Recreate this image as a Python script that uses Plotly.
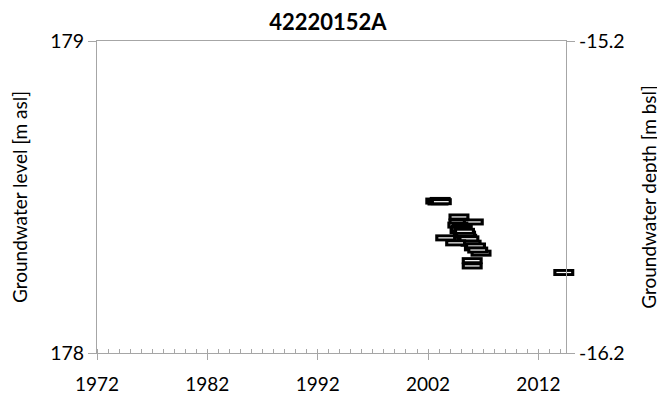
import plotly.graph_objects as go

title_text = "42220152A"
years = [2002.7, 2002.9, 2003.1, 2003.2,
         2004.8, 2004.8, 2006.1,
         2004.7, 2005.0, 2004.9, 2005.3, 2005.2, 2005.5, 2005.6, 2005.9,
         2005.1, 2005.4, 2005.0, 2005.7, 2005.3,
         2003.6, 2004.5, 2006.2, 2006.8, 2006.3, 2006.5,
         2006.0, 2006.0, 2014.3]
levels = [178.487, 178.484, 178.489, 178.485,
          178.436, 178.420, 178.420,
          178.410, 178.400, 178.392, 178.386, 178.378, 178.371, 178.362, 178.352,
          178.404, 178.381, 178.397, 178.366, 178.390,
          178.369, 178.353, 178.337, 178.320, 178.343, 178.330,
          178.296, 178.279, 178.258]
x_ticks = [1972, 1982, 1992, 2002, 2012]
y_ticks = [178, 179]
y2_ticks = [-16.2, -15.2]

font_family = "Lato, Carlito, Calibri, sans-serif"
axis_col = "#a6a6a6"

fig = go.Figure()
for xv, yv in zip(years, levels):
    fig.add_trace(go.Scatter(
        x=[xv], y=[yv], mode="markers", showlegend=False, hoverinfo="skip", cliponaxis=False,
        marker=dict(symbol="line-ew", size=15, line=dict(color="black", width=7)),
    ))
    fig.add_trace(go.Scatter(
        x=[xv], y=[yv], mode="markers", showlegend=False, hoverinfo="skip", cliponaxis=False,
        marker=dict(symbol="line-ew", size=10.5, line=dict(color="white", width=1.2)),
    ))
fig.add_trace(go.Scatter(x=[None], y=[None], yaxis="y2", showlegend=False))

fig.update_layout(
    width=657, height=391,
    margin=dict(l=89, r=99, t=33, b=46),
    paper_bgcolor="white", plot_bgcolor="white",
    font=dict(family=font_family, color="black"),
    title=dict(text="<b>" + title_text + "</b>", x=0.487, xanchor="center",
               y=0.964, yanchor="middle", font=dict(size=22, family=font_family)),
    xaxis=dict(range=[1972, 2014.5], tickvals=x_ticks, ticks="outside", ticklen=6,
               tickcolor=axis_col, showline=True, linecolor=axis_col, mirror=True,
               showgrid=False, zeroline=False, tickfont=dict(size=19), automargin=False,
               ticklabelstandoff=8,
               minor=dict(dtick=1, tick0=1972, ticks="inside", ticklen=4, tickcolor=axis_col, showgrid=False)),
    yaxis=dict(range=[178, 179], tickvals=y_ticks, ticks="outside", ticklen=8,
               tickcolor=axis_col, showline=True, linecolor=axis_col, showgrid=False,
               zeroline=False, tickfont=dict(size=19.5), automargin=False,
               title=dict(text="Groundwater level [m asl]", font=dict(size=19), standoff=19)),
    yaxis2=dict(range=[-16.2, -15.2], tickvals=y2_ticks, ticktext=["-16.2", "-15.2"],
                overlaying="y", side="right", ticks="outside", ticklen=8,
                tickcolor=axis_col, showline=True, linecolor=axis_col, showgrid=False,
                zeroline=False, tickfont=dict(size=19.5), automargin=False,
                title=dict(text="Groundwater depth [m bsl]", font=dict(size=19), standoff=19)),
)

fig.write_html("out.html")
